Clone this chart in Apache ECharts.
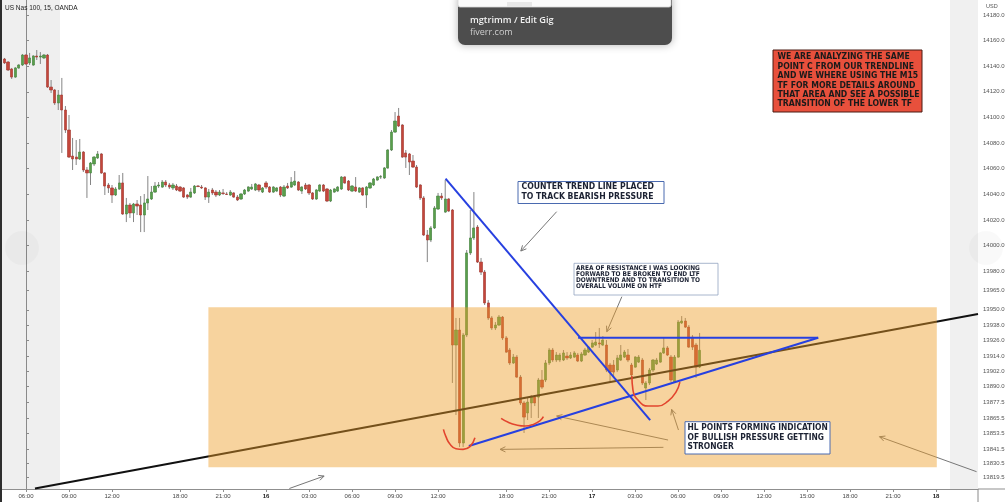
<!DOCTYPE html>
<html>
<head>
<meta charset="utf-8">
<script src="https://cdn.jsdelivr.net/npm/echarts@6/dist/echarts.min.js"></script>
<style>html,body{margin:0;padding:0;background:#fff;overflow:hidden}#c{width:1005px;height:502px}</style>
</head>
<body>
<div id="c"></div>
<script>
// ---- time axis (15 min slots, slot 0 = 06:00 on the 15th) ----
const firstSlot = -6;
const xTickSlots = [0,12,24,43,55,67,79,91,103,115,134,146,158,170,182,194,206,218,230,242,254];
const xTickLabels = ['06:00','09:00','12:00','18:00','21:00','16','03:00','06:00','09:00','12:00','18:00','21:00','17','03:00','06:00','09:00','12:00','15:00','18:00','21:00','18'];
const yTicks = [14180,14160,14140,14120,14100,14080,14060,14040,14020,14000,13980,13965,13950,13938,13926,13914,13902,13890,13877.5,13865.5,13853.5,13841.5,13830.5,13819.5];

// ---- OHLC (US Nas 100, 15m) ----
const opens = [
14145.6,14143.2,14137.8,14131.5,14138.6,14140.9,14148.7,14142.5,14140.9,14147.9,14147.1,14146.4,14148.7,14123.7,14121.4,14111.3,14117.5,14105.8,14090.2,14069.9,
14069.1,14067.6,14073.0,14059.0,14056.7,14063.7,14068.4,14071.5,14056.7,14047.3,14045.0,14039.5,14044.2,14048.9,14024.7,14031.7,14025.5,14032.5,14031.7,14023.9,
14033.3,14036.4,14041.8,14046.5,14045.7,14049.6,14047.3,14045.0,14046.5,14045.7,14045.0,14039.5,14037.9,14041.1,14046.5,14045.7,14045.0,14037.9,14043.4,14041.8,
14039.5,14041.1,14040.3,14039.5,14041.1,14037.9,14036.4,14040.3,14042.6,14044.2,14043.4,14047.3,14041.8,14048.9,14045.7,14041.8,14042.6,14045.7,14038.7,14046.5,
14045.7,14047.3,14049.6,14042.6,14047.3,14047.3,14041.1,14036.4,14042.6,14047.3,14044.2,14034.8,14041.8,14042.6,14044.2,14053.5,14050.4,14042.6,14045.7,14041.8,
14045.0,14039.5,14045.0,14047.3,14051.2,14053.5,14052.8,14060.6,14074.6,14088.6,14101.1,14094.1,14072.3,14071.5,14066.0,14061.3,14047.3,14037.2,14008.3,14004.4,
14013.8,14028.6,14038.7,14026.2,14036.4,14027.8,13922.5,13934.2,13846.1,13930.3,13994.3,14006.0,14014.5,13987.2,13979.4,13955.3,13943.6,13935.8,13938.1,13944.3,
13928.0,13918.6,13908.5,13913.1,13897.5,13877.3,13869.5,13877.3,13881.9,13881.9,13895.2,13895.2,13908.5,13918.6,13910.8,13910.8,13910.8,13913.9,13912.4,13913.1,
13914.7,13910.0,13914.7,13917.0,13920.9,13922.5,13924.1,13922.5,13922.5,13906.9,13906.9,13903.0,13910.8,13913.1,13914.7,13906.9,13905.3,13909.2,13910.8,13889.0,
13892.9,13903.0,13907.7,13909.2,13916.3,13920.2,13913.1,13893.6,13913.1,13939.7,13941.2,13936.5,13928.7,13922.5,13905.3
];
const closes = [
14142.5,14137.0,14131.5,14138.6,14140.9,14148.7,14141.7,14146.4,14147.9,14147.1,14147.9,14148.7,14123.7,14121.4,14111.3,14117.5,14105.8,14090.2,14069.1,14067.6,
14067.6,14073.0,14059.0,14056.7,14064.5,14069.1,14071.5,14056.7,14046.5,14045.0,14039.5,14044.2,14048.9,14024.7,14031.7,14025.5,14032.5,14030.9,14023.9,14033.3,
14036.4,14041.8,14046.5,14047.3,14049.6,14047.3,14045.7,14047.3,14043.4,14042.6,14037.9,14037.9,14041.8,14046.5,14046.1,14045.0,14037.9,14041.8,14041.1,14039.5,
14041.8,14040.7,14039.9,14041.8,14037.9,14035.6,14040.3,14043.4,14045.7,14045.7,14048.1,14043.4,14045.0,14045.7,14041.8,14045.7,14045.0,14039.5,14045.7,14045.0,
14049.6,14050.4,14043.4,14045.7,14044.2,14041.1,14036.4,14043.4,14047.3,14042.6,14034.8,14043.4,14044.2,14045.7,14053.5,14048.9,14043.4,14046.5,14042.6,14045.0,
14039.5,14045.7,14048.9,14052.0,14053.5,14053.9,14060.6,14074.6,14088.6,14097.2,14093.3,14069.1,14069.1,14065.2,14061.3,14045.7,14037.2,14008.3,14004.4,14013.8,
14029.4,14038.7,14037.2,14036.4,14027.0,13922.5,13934.2,13846.1,13930.3,13994.3,14006.0,14013.8,13987.2,13979.4,13955.3,13943.6,13935.8,13938.1,13944.3,13928.0,
13917.0,13908.5,13913.1,13897.5,13877.3,13866.3,13878.0,13881.9,13877.3,13895.2,13889.7,13908.5,13918.6,13910.8,13914.7,13914.7,13916.3,13912.4,13914.7,13916.3,
13910.0,13915.5,13918.6,13920.9,13924.1,13924.8,13923.3,13926.4,13903.0,13901.4,13901.4,13912.4,13914.7,13917.0,13910.8,13899.1,13913.1,13913.1,13892.9,13892.9,
13903.0,13910.8,13910.8,13916.3,13920.2,13914.7,13895.2,13913.1,13940.4,13941.2,13936.5,13920.9,13920.9,13905.3,13918.4
];
const highs = [
14146.4,14144.0,14138.6,14139.3,14141.7,14149.5,14149.5,14150.3,14148.7,14152.6,14151.0,14149.5,14149.5,14129.2,14122.2,14121.4,14130.8,14108.9,14101.9,14084.0,
14082.4,14083.2,14073.8,14061.3,14065.2,14069.9,14073.8,14072.3,14057.4,14048.9,14047.3,14045.7,14055.1,14056.7,14037.2,14033.3,14033.3,14035.6,14038.7,14040.3,
14054.3,14046.5,14049.6,14049.6,14051.2,14051.2,14048.9,14048.9,14048.1,14046.5,14045.7,14040.3,14045.0,14047.3,14047.3,14047.3,14045.7,14044.2,14045.0,14043.4,
14043.4,14044.2,14041.8,14043.4,14041.8,14039.5,14041.1,14044.2,14046.5,14048.1,14048.9,14048.1,14045.7,14050.4,14046.5,14046.5,14045.7,14046.5,14047.3,14048.9,
14053.5,14058.2,14050.4,14046.5,14048.9,14048.1,14041.8,14044.2,14048.1,14048.1,14045.0,14044.2,14045.0,14046.5,14054.3,14054.3,14051.2,14047.3,14053.5,14045.7,
14045.7,14046.5,14049.6,14052.8,14054.3,14055.1,14061.3,14075.4,14090.2,14104.2,14107.4,14094.9,14074.6,14072.3,14070.7,14062.9,14048.1,14038.7,14012.2,14015.3,
14030.9,14041.1,14041.1,14051.2,14037.2,14028.6,13943.6,13943.6,13931.9,13996.6,14027.8,14041.8,14016.1,13990.4,13981.0,13957.6,13945.1,13940.4,13945.9,13945.1,
13929.5,13920.2,13915.5,13914.7,13899.1,13878.8,13881.2,13883.5,13883.5,13896.8,13903.0,13910.8,13920.2,13920.2,13917.0,13916.3,13918.6,13917.0,13917.0,13917.8,
13916.3,13917.0,13920.2,13921.7,13926.4,13932.6,13935.8,13929.5,13926.4,13908.5,13910.8,13914.7,13922.5,13918.6,13919.4,13908.5,13913.9,13914.7,13912.4,13894.4,
13904.6,13911.6,13912.4,13917.0,13928.0,13921.7,13914.7,13914.7,13942.0,13945.1,13943.6,13938.1,13930.3,13924.1,13931.9
];
const lows = [
14141.7,14136.2,14130.0,14130.8,14137.8,14140.1,14140.9,14140.9,14140.1,14144.8,14141.7,14145.6,14123.0,14119.1,14109.7,14105.8,14072.3,14087.9,14068.4,14059.0,
14062.9,14066.8,14057.4,14037.2,14047.3,14062.1,14067.6,14055.9,14039.5,14041.1,14033.3,14038.7,14043.4,14023.9,14018.4,14021.6,14018.4,14023.9,14010.6,14010.6,
14027.8,14035.6,14041.1,14045.0,14045.0,14045.7,14044.2,14043.4,14042.6,14041.8,14037.2,14036.4,14037.2,14040.3,14045.7,14044.2,14035.6,14033.3,14039.5,14037.9,
14038.7,14039.5,14039.5,14038.7,14037.2,14034.8,14035.6,14039.5,14041.8,14043.4,14042.6,14041.8,14041.1,14044.2,14041.1,14041.1,14041.8,14037.9,14037.9,14044.2,
14045.0,14046.5,14042.6,14040.3,14043.4,14039.5,14035.6,14035.6,14041.8,14041.8,14034.0,14034.0,14041.1,14041.8,14043.4,14048.1,14042.6,14041.8,14041.8,14041.1,
14038.7,14029.4,14044.2,14046.5,14050.4,14052.0,14052.0,14059.8,14073.8,14087.9,14092.5,14068.4,14060.6,14055.1,14060.6,14045.0,14035.6,14007.5,13987.2,14002.8,
14013.0,14027.8,14035.6,14025.5,14026.2,13892.9,13867.9,13842.9,13842.9,13928.7,13992.7,14004.4,13986.5,13977.1,13953.7,13942.0,13934.2,13934.2,13937.3,13926.4,
13916.3,13906.9,13907.7,13896.8,13875.7,13853.9,13864.0,13865.6,13874.9,13865.6,13888.2,13893.6,13906.9,13909.2,13909.2,13909.2,13910.0,13910.8,13911.6,13912.4,
13909.2,13909.2,13913.9,13916.3,13920.2,13921.7,13920.2,13921.7,13901.4,13893.6,13896.8,13901.4,13910.0,13912.4,13909.2,13897.5,13904.6,13908.5,13891.3,13879.6,
13891.3,13901.4,13906.9,13908.5,13915.5,13913.9,13893.6,13892.9,13912.4,13938.9,13935.8,13920.2,13918.6,13896.8,13904.6
];

// ---- drawn annotations, in [slot, price] ----
const blackTrend = [[2.5, 13810.6], [265.7, 13946.7]];
const counterTrend = [[117.1, 14052.2], [174.2, 13864.0]];
const risingTrend = [[123.6, 13843.7], [221.1, 13928.2]];
const resistanceLine = [[154.1, 13928.2], [221.1, 13928.2]];
const zoneBox = [[50.9, 13951.9, 254.2, 13827.1]];
const redCurveA = [[116.5,13856.7],[117.2,13851.0],[118.3,13845.3],[120.0,13841.6],[122.0,13841.1],[123.9,13843.2],[125.3,13850.2]];
const redCurveB = [[132.6,13865.3],[134.6,13862.2],[136.9,13860.1],[139.3,13859.3],[141.6,13860.6],[143.5,13863.5],[144.4,13866.6]];
const redCurveC = [[169.1,13898.3],[169.4,13887.4],[170.8,13879.6],[173.6,13874.9],[176.4,13874.9],[179.2,13878.8],[181.4,13885.8],[182.5,13893.6]];
const arrows = [
  [148.1, 14026.5, 138.1, 13995.8],
  [166.3, 13960.2, 162.1, 13932.9],
  [182.1, 13856.2, 180.2, 13872.3],
  [179.2, 13848.4, 148.1, 13867.1],
  [177.9, 13842.7, 132.3, 13841.1],
  [73.5, 13810.6, 83.2, 13820.3],
  [265.3, 13823.7, 238.2, 13851.0]
];

const noteRed = ['WE ARE ANALYZING THE SAME','POINT C FROM OUR TRENDLINE','AND WE WHERE USING THE M15','TF FOR MORE DETAILS AROUND','THAT AREA AND SEE A POSSIBLE','TRANSITION OF THE LOWER TF'];
const noteCounter = ['COUNTER TREND LINE PLACED','TO TRACK BEARISH PRESSURE'];
const noteResistance = ['AREA OF RESISTANCE I WAS LOOKING','FORWARD TO BE BROKEN TO END LTF','DOWNTREND AND TO TRANSITION TO','OVERALL VOLUME ON HTF'];
const noteHL = ['HL POINTS FORMING INDICATION','OF BULLISH PRESSURE GETTING','STRONGER'];

const slots = opens.map((_, k) => firstSlot + k);
const lastClose = closes[closes.length - 1];
const COND = '"DejaVu Sans Condensed","DejaVu Sans",sans-serif';

function wickItem(params, api) {
  const x = api.value(0);
  const lo = api.coord([x, api.value(1)]);
  const hi = api.coord([x, api.value(2)]);
  return { type: 'line', shape: { x1: lo[0], y1: lo[1], x2: hi[0], y2: hi[1] }, style: { stroke: '#858585', lineWidth: 1 } };
}
function arrowItem(params, api) {
  const a = api.coord([api.value(0), api.value(1)]);
  const b = api.coord([api.value(2), api.value(3)]);
  const ang = Math.atan2(b[1] - a[1], b[0] - a[0]);
  const L = 6, w = 0.45;
  const h1 = [b[0] - L * Math.cos(ang - w), b[1] - L * Math.sin(ang - w)];
  const h2 = [b[0] - L * Math.cos(ang + w), b[1] - L * Math.sin(ang + w)];
  return { type: 'group', children: [
    { type: 'line', shape: { x1: a[0], y1: a[1], x2: b[0], y2: b[1] }, style: { stroke: '#777', lineWidth: 1 } },
    { type: 'polyline', shape: { points: [h1, b, h2] }, style: { stroke: '#777', lineWidth: 1, fill: null } }
  ]};
}
function boxItem(params, api) {
  const p0 = api.coord([api.value(0), api.value(1)]);
  const p1 = api.coord([api.value(2), api.value(3)]);
  return { type: 'rect', shape: { x: p0[0], y: p0[1], width: p1[0] - p0[0], height: p1[1] - p0[1] },
    style: { fill: 'rgba(238,158,40,0.45)' } };
}
function lineSeries(data, color, width, z, smooth) {
  return { type: 'line', data: data, z: z, symbol: 'none', showSymbol: false, smooth: smooth || false,
    lineStyle: { color: color, width: width }, silent: true, animation: false };
}
function textBlock(x, y, lines, font, fill, lh) {
  return { type: 'text', x: x, y: y, z: 102, style: { text: lines.join('\n'), font: font, fill: fill, lineHeight: lh, verticalAlign: 'top', align: 'left' } };
}

const chart = echarts.init(document.getElementById('c'), null, { renderer: 'canvas' });
chart.setOption({
  animation: false,
  backgroundColor: '#ffffff',
  grid: { left: 0, right: 27, top: 0, bottom: 13, containLabel: false, outerBoundsMode: 'none' },
  xAxis: {
    type: 'value', min: -7.26, max: 265.7,
    axisLine: { show: true, lineStyle: { color: '#8f8f8f', width: 1 } },
    axisTick: { show: true, length: 3, customValues: xTickSlots, lineStyle: { color: '#8f8f8f' } },
    splitLine: { show: false },
    axisLabel: {
      customValues: xTickSlots, margin: 4, fontSize: 6, color: '#444', fontFamily: 'Liberation Sans, Arial, sans-serif',
      formatter: function (v) {
        const k = xTickSlots.indexOf(Math.round(v));
        if (k < 0) return '';
        const t = xTickLabels[k];
        return t.indexOf(':') < 0 ? '{b|' + t + '}' : t;
      },
      rich: { b: { fontWeight: 'bold', fontSize: 6, color: '#222' } }
    }
  },
  yAxis: {
    type: 'value', position: 'right', min: 13810.2, max: 14191.6,
    axisLine: { show: true, lineStyle: { color: '#8a8a8a', width: 1 } },
    axisTick: { show: true, length: 3, customValues: yTicks, lineStyle: { color: '#8a8a8a' } },
    splitLine: { show: false },
    axisLabel: { customValues: yTicks, margin: 5, fontSize: 6, color: '#555', fontFamily: 'Liberation Sans, Arial, sans-serif',
      formatter: function (v) { return Number(v).toFixed(1); } }
  },
  series: [
    { type: 'custom', z: 2, silent: true, renderItem: wickItem,
      data: slots.map((s, k) => [s, lows[k], highs[k]]), encode: { x: 0, y: [1, 2] } },
    { type: 'candlestick', z: 3, barWidth: 2.7, silent: true,
      data: slots.map((s, k) => [s, opens[k], closes[k], Math.min(opens[k], closes[k]), Math.max(opens[k], closes[k])]),
      encode: { x: 0, y: [1, 2, 3, 4] },
      itemStyle: { color: '#5a9e4b', color0: '#c4463b', borderColor: '#40833a', borderColor0: '#a3342b', borderWidth: 0.6 },
      markLine: { silent: true, symbol: 'none', animation: false,
        lineStyle: { opacity: 0 },
        label: { show: true, position: 'end', distance: 0, formatter: lastClose.toFixed(1), backgroundColor: '#4caf50',
          color: '#fff', fontSize: 6, padding: [1.5, 3, 1.5, 3], fontFamily: 'Liberation Sans, Arial, sans-serif' },
        data: [{ yAxis: lastClose }] } },
    lineSeries(blackTrend, '#111', 2, 4),
    { type: 'custom', z: 5, clip: false, silent: true, renderItem: arrowItem, data: arrows, encode: { x: [0, 2], y: [1, 3] } },
    { type: 'custom', z: 6, silent: true, renderItem: boxItem, data: zoneBox, encode: { x: [0, 2], y: [1, 3] } },
    lineSeries(counterTrend, '#2740e0', 2, 7),
    lineSeries(risingTrend, '#2740e0', 2, 7),
    lineSeries(resistanceLine, '#2740e0', 2, 7),
    lineSeries(redCurveA, '#e2452e', 1.6, 8, 0.5),
    lineSeries(redCurveB, '#e2452e', 1.6, 8, 0.5),
    lineSeries(redCurveC, '#e2452e', 1.6, 8, 0.5)
  ],
  graphic: [
    { type: 'rect', z: 0, shape: { x: 0, y: 0, width: 60, height: 489 }, style: { fill: '#efefef' } },
    { type: 'rect', z: 0, shape: { x: 950, y: 0, width: 28, height: 489 }, style: { fill: '#f0f0f0' } },
    { type: 'circle', z: 1, shape: { cx: 22, cy: 248, r: 17 }, style: { fill: 'rgba(0,0,0,0.025)' } },
    { type: 'circle', z: 1, shape: { cx: 986, cy: 248, r: 17 }, style: { fill: 'rgba(0,0,0,0.025)' } },
    { type: 'line', z: 1, shape: { x1: 978, y1: 489, x2: 1005, y2: 489 }, style: { stroke: '#8f8f8f', lineWidth: 1 } },
    { type: 'line', z: 1, shape: { x1: 978, y1: 489, x2: 978, y2: 502 }, style: { stroke: '#8a8a8a', lineWidth: 1 } },
    { type: 'rect', z: 103, shape: { x: 0, y: 0, width: 2, height: 502 }, style: { fill: '#2e2e2e' } },
    { type: 'text', z: 102, x: 5, y: 5, style: { text: 'US Nas 100, 15, OANDA', font: '6.5px "Liberation Sans", Arial, sans-serif', fill: '#222', verticalAlign: 'top' } },
    { type: 'text', z: 102, x: 986, y: 3, style: { text: 'USD', font: '5.5px "Liberation Sans", Arial, sans-serif', fill: '#555', verticalAlign: 'top' } },
    // red note
    { type: 'rect', z: 101, shape: { x: 773, y: 50, width: 149, height: 62 }, style: { fill: '#e8503c', stroke: '#4a1a12', lineWidth: 1 } },
    textBlock(777.5, 52.5, noteRed, 'bold 8.6px ' + COND, '#1a1a1a', 9.4),
    // counter note
    { type: 'rect', z: 101, shape: { x: 518, y: 181.5, width: 146, height: 22 }, style: { fill: '#ffffff', stroke: '#4a6ab0', lineWidth: 1 } },
    textBlock(521.5, 181.7, noteCounter, 'bold 8.6px ' + COND, '#1c2233', 10),
    // resistance note
    { type: 'rect', z: 101, shape: { x: 574, y: 263.3, width: 144, height: 31.7 }, style: { fill: '#ffffff', stroke: '#93a3c0', lineWidth: 0.8 } },
    textBlock(576, 265.2, noteResistance, 'bold 6.5px ' + COND, '#1c2233', 6.1),
    // HL note
    { type: 'rect', z: 101, shape: { x: 685, y: 421.7, width: 145, height: 32.3 }, style: { fill: '#ffffff', stroke: '#4a6ab0', lineWidth: 1 } },
    textBlock(687.5, 423.7, noteHL, 'bold 8.4px ' + COND, '#1c2233', 9.2),
    // browser tooltip overlay
    { type: 'rect', z: 110, shape: { x: 458, y: -8, width: 214, height: 53, r: 7 }, style: { fill: '#4d4d4d', shadowBlur: 8, shadowColor: 'rgba(0,0,0,0.3)' } },
    { type: 'rect', z: 111, shape: { x: 458, y: -2, width: 213, height: 9, r: 2 }, style: { fill: '#fbfbfb', stroke: '#d9d9d9', lineWidth: 0.8 } },
    { type: 'rect', z: 112, shape: { x: 507, y: 2, width: 25, height: 5 }, style: { fill: '#e8e8e8' } },
    { type: 'text', z: 112, x: 470, y: 20.5, style: { text: 'mgtrimm / Edit Gig', font: '600 9.2px "Open Sans", "Noto Sans", sans-serif', fill: '#f2f2f2', verticalAlign: 'middle' } },
    { type: 'text', z: 112, x: 470, y: 32.5, style: { text: 'fiverr.com', font: '9px "Open Sans", "Noto Sans", sans-serif', fill: '#cdcdcd', verticalAlign: 'middle' } }
  ]
});
</script>
</body>
</html>
